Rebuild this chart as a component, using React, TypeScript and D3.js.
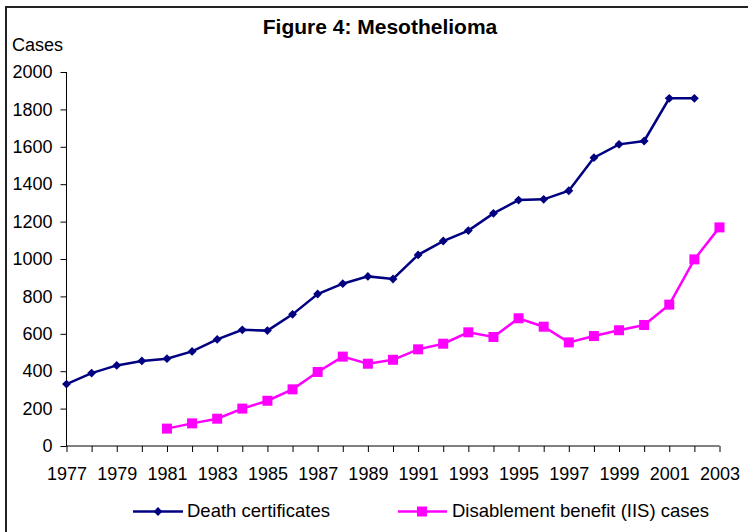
import React, { useRef, useEffect } from 'react'
import * as d3 from 'd3'

const years = d3.range(1977, 2004)
const yTicks = [0, 200, 400, 600, 800, 1000, 1200, 1400, 1600, 1800, 2000]

// death certificates 1977-2002
const deathYears = d3.range(1977, 2003)
const deathCases = [331, 390, 431, 455, 467, 506, 570, 621, 617, 704, 813, 868, 907, 893,
  1022, 1096, 1152, 1244, 1315, 1319, 1365, 1542, 1613, 1631, 1859, 1859]

// disablement benefit (IIS) 1981-2003
const iisYears = d3.range(1981, 2004)
const iisCases = [93, 121, 146, 200, 242, 303, 396, 478, 440, 461, 517, 547, 608, 583,
  683, 638, 554, 588, 619, 647, 756, 998, 1169]

const font = "Arial, 'Liberation Sans', sans-serif"

export default function App() {
  const svgRef = useRef<SVGSVGElement>(null)

  useEffect(() => {
    const width = 748
    const height = 532
    const svg = d3.select(svgRef.current)
    svg.selectAll('*').remove()
    svg.attr('width', width).attr('height', height)

    svg.append('rect')
      .attr('x', 6).attr('y', 7).attr('width', 760).attr('height', 540)
      .attr('fill', '#fff').attr('stroke', '#222').attr('stroke-width', 2)

    const x = d3.scaleLinear().domain([1977, 2003]).range([66.5, 719.5])
    const y = d3.scaleLinear().domain([0, 2000]).range([446, 72])

    svg.append('text')
      .attr('x', 380).attr('y', 34)
      .attr('text-anchor', 'middle')
      .attr('font-family', font).attr('font-weight', 'bold').attr('font-size', 21)
      .text('Figure 4: Mesothelioma')

    svg.append('text')
      .attr('x', 12).attr('y', 51)
      .attr('font-family', font).attr('font-size', 18)
      .text('Cases')

    const yAxis = svg.append('g')
      .attr('transform', 'translate(66.5,0)')
      .call(d3.axisLeft(y).tickValues(yTicks).tickSize(6).tickPadding(8).tickFormat(d3.format('d')))
    yAxis.select('.domain').attr('d', `M0,${y(2000)}V${y(0)}`)

    const xAxis = svg.append('g')
      .attr('transform', 'translate(0,446)')
      .call(d3.axisBottom(x).tickValues(years).tickSize(6).tickPadding(15)
        .tickFormat(d => ((d as number) - 1977) % 2 === 0 ? String(d) : ''))
    xAxis.select('.domain').attr('d', `M${x(1977)},0H${x(2003)}`)

    svg.selectAll('.tick text').attr('font-family', font).attr('font-size', 18).attr('fill', '#000')
    svg.selectAll('.tick line, .domain').attr('stroke', '#000')

    const navy = '#000080'
    const pink = '#ff00ff'

    const deathPts: [number, number][] = deathYears.map((yr, i) => [x(yr), y(deathCases[i])])
    const iisPts: [number, number][] = iisYears.map((yr, i) => [x(yr), y(iisCases[i])])

    svg.append('path')
      .attr('d', d3.line()(iisPts))
      .attr('fill', 'none').attr('stroke', pink).attr('stroke-width', 2.5)

    svg.append('g').selectAll('rect')
      .data(iisPts).join('rect')
      .attr('x', d => d[0] - 5).attr('y', d => d[1] - 5)
      .attr('width', 10).attr('height', 10)
      .attr('fill', pink)

    svg.append('path')
      .attr('d', d3.line()(deathPts))
      .attr('fill', 'none').attr('stroke', navy).attr('stroke-width', 2.5)

    const diamond = d3.symbol().type(d3.symbolDiamond2).size(50)
    svg.append('g').selectAll('path')
      .data(deathPts).join('path')
      .attr('transform', d => `translate(${d[0]},${d[1]})`)
      .attr('d', diamond())
      .attr('fill', navy)

    // legend
    const lg = svg.append('g').attr('font-family', font).attr('font-size', 18.5)
    lg.append('line').attr('x1', 133).attr('x2', 183).attr('y1', 511.5).attr('y2', 511.5)
      .attr('stroke', navy).attr('stroke-width', 2.5)
    lg.append('path').attr('transform', 'translate(158,511.5)').attr('d', diamond()).attr('fill', navy)
    lg.append('text').attr('x', 187).attr('y', 517).text('Death certificates')

    lg.append('line').attr('x1', 398).attr('x2', 447).attr('y1', 511.5).attr('y2', 511.5)
      .attr('stroke', pink).attr('stroke-width', 2.5)
    lg.append('rect').attr('x', 417).attr('y', 506.5).attr('width', 10).attr('height', 10).attr('fill', pink)
    lg.append('text').attr('x', 452).attr('y', 517).text('Disablement benefit (IIS) cases')
  }, [])

  return <svg ref={svgRef} style={{ position: 'absolute', left: 0, top: 0 }} />
}
